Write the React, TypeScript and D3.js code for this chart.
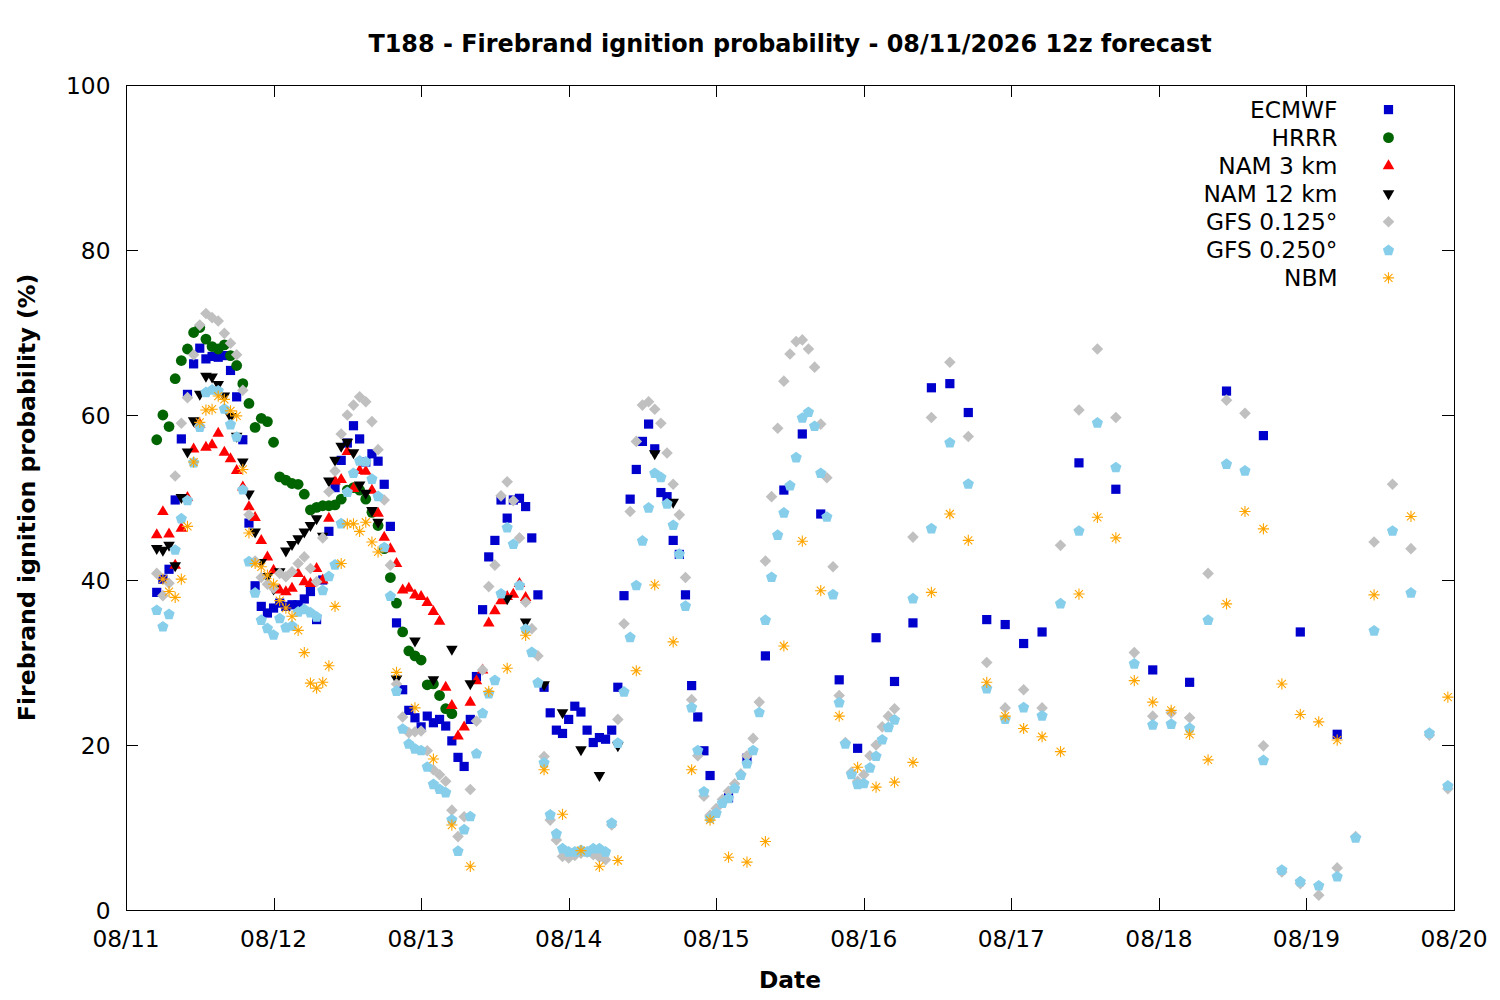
import React from "react";
import * as d3 from "d3";

// ---------- DATA (hours counted from 08/11 00:00) ----------
const START = Date.UTC(2026, 7, 11);
const END = Date.UTC(2026, 7, 20);
const HOUR = 3600 * 1000;

const dayTickLabels = ["08/11", "08/12", "08/13", "08/14", "08/15", "08/16", "08/17", "08/18", "08/19", "08/20"];
const yTickValues = [0, 20, 40, 60, 80, 100];

// ECMWF: hourly from hour 5, then 3-hourly from hour 98, then 6-hourly from hour 155
const ecmwfHourly = [
  38.5, 40.1, 41.3, 49.7, 57.1, 62.5, 66.2, 68.1, 66.8, 67.1,
  67.0, 67.2, 65.4, 62.2, 57.0, 46.9, 39.3, 36.8, 36.0, 36.6,
  37.2, 36.8, 37.0, 37.0, 37.7, 38.6, 35.2, 40.0, 45.9, 51.2,
  54.5, 56.6, 58.7, 57.1, 54.3, 55.3, 54.4, 51.6, 46.5, 34.8,
  26.7, 24.2, 23.3, 22.2, 23.5, 22.7, 23.1, 22.3, 20.5, 18.5,
  17.4, 23.1, 28.3, 36.4, 42.8, 44.8, 49.7, 47.5, 49.7, 49.9,
  48.9, 45.1, 38.2, 27.0, 23.9, 21.8, 21.4, 23.1, 24.7, 24.0,
  21.8, 20.3, 20.9, 20.7, 21.8, 27.0, 38.1, 49.8, 53.4, 56.8,
  58.9, 55.9, 50.6, 50.1, 44.8, 43.1, 38.2, 27.2, 23.4, 19.3,
  16.3,
];
const ecmwf3h = [13.6, 18.4, 30.8, 50.9, 57.7, 48.0, 27.9, 19.6, 33.0, 27.7, 34.8, 63.3, 63.8, 60.3, 35.2, 34.6, 32.3, 33.7];
const ecmwf6h = [54.2, 51.0, 29.1, 27.6, 62.9, 57.5, 33.7, 21.3];

// HRRR: hourly from hour 5
const hrrrHourly = [
  57.0, 60.0, 58.6, 64.4, 66.6, 68.0, 70.0, 70.6, 69.2, 68.3,
  68.0, 68.5, 67.2, 66.0, 63.8, 61.4, 58.5, 59.6, 59.2, 56.7,
  52.5, 52.1, 51.7, 51.6, 50.4, 48.5, 48.8, 49.0, 49.0, 49.1,
  49.8, 50.9, 51.2, 50.9, 49.8, 48.2, 46.6, 43.8, 40.3, 37.2,
  33.7, 31.4, 30.8, 30.3, 27.3, 27.4, 26.0, 24.4, 23.8,
];

// NAM 3 km: hourly from hour 5
const nam3Hourly = [
  45.5, 48.3, 45.6, 41.8, 46.3, 50.0, 55.9, 58.9, 56.1, 56.4,
  57.8, 55.5, 54.7, 53.3, 51.3, 48.9, 47.6, 44.8, 42.8, 41.2,
  38.8, 38.6, 39.0, 40.8, 39.8, 39.6, 41.4, 40.0, 47.5, 52.0,
  52.2, 55.6, 51.1, 53.3, 53.2, 50.9, 48.1, 45.2, 43.8, 42.0,
  38.8, 39.0, 38.2, 38.0, 37.3, 36.2, 35.0, 27.0, 24.8, 21.1,
  22.2, 25.2, 27.8, 29.1, 34.8, 36.3, 37.5, 38.0, 38.3, 39.6,
  37.9,
];

// NAM 12 km: hourly from hour 5, then 3-hourly from hour 44
const nam12Hourly = [
  43.8, 43.6, 44.2, 41.7, 50.0, 55.5, 59.3, 62.5, 64.7, 64.6,
  63.7, 62.3, 59.8, 57.4, 54.3, 50.4, 45.8, 42.1, 40.4, 38.9,
  41.0, 43.5, 44.3, 45.0, 45.8, 46.6, 47.4, 45.3, 52.0, 54.5,
  56.2, 56.7, 55.4, 51.5, 50.5, 48.4, 47.0,
];
const nam12ThreeHourly = [28.0, 32.6, 27.9, 31.6, 27.4, null, 37.7, 34.9, 27.3, 23.9, 19.4, 16.3, 19.9, null, 55.3, 49.4];

// GFS 0.125°: hourly from hour 5, then 3-hourly from hour 128
const gfs125Hourly = [
  40.8, 38.1, 39.6, 52.6, 59.0, 62.1, 67.3, 70.9, 72.3, 71.8,
  71.4, 69.9, 68.7, 67.3, 63.0, 47.9, 42.3, 40.3, 39.5, 39.0,
  40.8, 40.4, 41.0, 42.0, 42.8, 41.4, 39.8, 45.1, 50.7, 53.2,
  57.7, 60.0, 61.2, 62.2, 61.6, 59.2, 55.8, 49.7, 41.8, 27.4,
  23.4, 21.5, 21.6, 21.7, 19.3, 17.0, 16.4, 15.6, 12.1, 8.9,
  11.3, 14.6, 22.9, 29.1, 39.2, 41.8, 50.2, 51.9, 49.6, 45.1,
  37.3, 34.1, 30.8, 18.6, 10.9, 8.5, 6.5, 6.3, 6.6, 6.9,
  7.0, 6.7, 6.4, 6.1, 10.3, 23.1, 34.7, 48.3, 56.8, 61.2,
  61.6, 60.7, 59.0, 55.4, 51.6, 47.9, 40.3, 25.5, 18.7, 13.8,
  11.5, 12.3, 13.4, 14.4, 15.3, 16.5, 18.7, 20.8, 25.2, 42.3,
  50.1, 58.4, 64.1, 67.4, 68.9, 69.1, 68.0, 65.8, 58.9, 52.4,
  41.6, 26.0, 20.3, 16.7, 15.6, 16.4, 18.7, 20.0, 22.2, 23.5,
  24.4,
];
const gfs125ThreeHourly = [
  45.2, 59.7, 66.4, 57.4, 30.0, 24.5, 26.7, 24.5, 44.2, 60.6,
  68.0, 59.7, 31.2, 23.5, 23.9, 23.3, 40.8, 61.8, 60.2, 19.9,
  4.6, 3.2, 1.8, 5.1, 8.9, 44.6, 51.6, 43.8, 21.2, 14.7,
];

// GFS 0.250°: hourly from hour 5, then 3-hourly from hour 128
const gfs250Hourly = [
  36.4, 34.4, 35.9, 43.7, 47.5, 49.7, 54.3, 58.6, 62.8, 63.1,
  63.0, 60.8, 58.9, 57.4, 51.0, 42.3, 38.5, 35.2, 34.2, 33.4,
  35.4, 34.3, 34.5, 36.2, 36.5, 36.1, 35.6, 38.8, 40.5, 41.9,
  46.9, 50.7, 53.0, 54.5, 54.4, 52.3, 50.2, 44.0, 38.1, 26.6,
  22.0, 20.2, 19.6, 19.4, 17.4, 15.3, 14.7, 14.3, 11.0, 7.2,
  9.8, 11.4, 19.0, 23.9, 26.3, 27.9, 38.4, 46.4, 44.4, 39.4,
  34.1, 31.3, 27.6, 17.9, 11.6, 9.3, 7.5, 7.1, 7.1, 7.3,
  7.1, 7.5, 7.5, 7.1, 10.6, 20.3, 26.5, 33.1, 39.4, 44.8,
  48.8, 53.0, 52.5, 49.3, 46.7, 43.2, 36.9, 24.6, 19.4, 14.4,
  11.2, 11.8, 13.0, 13.6, 14.8, 16.4, 17.8, 19.4, 24.0, 35.2,
  40.4, 45.5, 48.2, 51.5, 54.9, 59.7, 60.4, 58.7, 53.0, 47.7,
  38.3, 25.2, 20.2, 16.5, 15.3, 15.4, 17.3, 18.7, 20.7, 22.2,
  23.1,
];
const gfs250ThreeHourly = [
  37.8, 46.3, 56.7, 51.7, 26.9, 23.2, 24.6, 23.6, 37.2, 46.0,
  59.1, 53.7, 29.9, 22.5, 22.6, 22.1, 35.2, 54.1, 53.3, 18.2,
  4.9, 3.5, 3.0, 4.1, 8.8, 33.9, 46.0, 38.5, 21.5, 15.1,
];

// NBM: hourly from hour 6, 3-hourly from hour 44, 6-hourly from hour 203
const nbmHourly = [
  40.1, 38.6, 37.9, 40.1, 46.5, 54.3, 59.1, 60.6, 60.7, 62.3,
  61.9, 60.5, 59.9, 53.4, 45.7, 42.0, 41.6, 40.6, 39.5, 37.5,
  36.6, 35.6, 33.9, 31.2, 27.5, 26.9, 27.6, 29.6, 36.8, 42.0,
  46.8, 46.8, 45.9, 47.0, 44.6, 43.4,
];
const nbmThreeHourly = [
  28.8, 24.5, 18.3, 10.3, 5.3, 26.5, 29.3, 33.3, 17.0, 11.6,
  7.2, 5.3, 6.0, 29.0, 39.4, 32.5, 17.0, 10.9, 6.4, 5.8,
  8.3, 32.0, 44.7, 38.7, 23.5, 17.3, 14.9, 15.5, 17.9, 38.5,
  48.0, 44.8, 27.6, 23.5, 22.0, 21.0, 19.2, 38.3, 47.6, 45.1,
  27.8, 25.2, 24.2, 21.3, 18.2, 37.1, 48.3, 46.2, 27.4, 23.7,
  22.8, 20.6,
];
const nbmSixHourly = [38.2, 47.7, 25.8];

type Part = [number, number, (number | null)[]];
type Shape = "square" | "circle" | "triUp" | "triDown" | "diamond" | "pentagon" | "star";
interface Series { name: string; color: string; shape: Shape; parts: Part[] }

const seriesList: Series[] = [
  { name: "ECMWF", color: "#0000cd", shape: "square", parts: [[5, 1, ecmwfHourly], [98, 3, ecmwf3h], [155, 6, ecmwf6h]] },
  { name: "HRRR", color: "#006400", shape: "circle", parts: [[5, 1, hrrrHourly]] },
  { name: "NAM 3 km", color: "#ff0000", shape: "triUp", parts: [[5, 1, nam3Hourly]] },
  { name: "NAM 12 km", color: "#000000", shape: "triDown", parts: [[5, 1, nam12Hourly], [44, 3, nam12ThreeHourly]] },
  { name: "GFS 0.125°", color: "#c0c0c0", shape: "diamond", parts: [[5, 1, gfs125Hourly], [128, 3, gfs125ThreeHourly]] },
  { name: "GFS 0.250°", color: "#87ceeb", shape: "pentagon", parts: [[5, 1, gfs250Hourly], [128, 3, gfs250ThreeHourly]] },
  { name: "NBM", color: "#ffa500", shape: "star", parts: [[6, 1, nbmHourly], [44, 3, nbmThreeHourly], [203, 6, nbmSixHourly]] },
];

function expand(parts: Part[]) {
  const out: { t: Date; v: number }[] = [];
  parts.forEach(([start, step, vals]) => {
    vals.forEach((v, i) => {
      if (v !== null && v !== undefined) out.push({ t: new Date(START + (start + i * step) * HOUR), v });
    });
  });
  return out;
}

// ---------- LAYOUT ----------
const W = 1500, H = 1000;
const L = 126, R = 1454, T = 85, B = 910;
const FONT = "'DejaVu Sans', 'Liberation Sans', sans-serif";
const FS = 23.3;

function pentagonPath(r: number) {
  const pts = d3.range(5).map((i) => {
    const a = -Math.PI / 2 + (i * 2 * Math.PI) / 5;
    return [r * Math.cos(a), r * Math.sin(a) + 0.6];
  });
  return "M" + pts.map((p) => p[0].toFixed(2) + "," + p[1].toFixed(2)).join("L") + "Z";
}

function Marker({ shape, color, x, y }: { shape: Shape; color: string; x: number; y: number }) {
  const tr = `translate(${x},${y})`;
  switch (shape) {
    case "square":
      return <rect x={x - 4.6} y={y - 4.6} width={9.2} height={9.2} fill={color} />;
    case "circle":
      return <circle cx={x} cy={y} r={5.4} fill={color} />;
    case "triUp":
      return <path transform={tr} d="M0,-6.4L5.8,3.6L-5.8,3.6Z" fill={color} />;
    case "triDown":
      return <path transform={tr} d="M0,6.4L5.8,-3.6L-5.8,-3.6Z" fill={color} />;
    case "diamond":
      return <path transform={tr} d="M0,-5.8L5.8,0L0,5.8L-5.8,0Z" fill={color} />;
    case "pentagon":
      return <path transform={tr} d={pentagonPath(5.9)} fill={color} />;
    case "star":
      return (
        <path
          transform={tr}
          d="M-5.6,0H5.6M0,-5.6V5.6M-4,-4L4,4M-4,4L4,-4"
          stroke={color}
          strokeWidth={1.1}
          fill="none"
        />
      );
  }
  return null;
}

export default function App() {
  const x = d3.scaleUtc().domain([START, END]).range([L, R]);
  const y = d3.scaleLinear().domain([0, 100]).range([B, T]);
  const dayTicks = x.ticks(d3.utcDay.every(1) as any);

  return (
    <svg
      width={W}
      height={H}
      viewBox={`0 0 ${W} ${H}`}
      style={{ position: "absolute", left: 0, top: 0, background: "#fff" }}
      fontFamily={FONT}
    >
      <rect x={0} y={0} width={W} height={H} fill="#fff" />
      {/* title */}
      <text x={(L + R) / 2} y={51.5} textAnchor="middle" fontSize={23.9} fontWeight="bold" fill="#000">
        T188 - Firebrand ignition probability - 08/11/2026 12z forecast
      </text>

      {/* y ticks */}
      {yTickValues.map((v) => (
        <g key={"y" + v}>
          <line x1={L} x2={L + 12} y1={Math.round(y(v)) + 0.5} y2={Math.round(y(v)) + 0.5} stroke="#000" strokeWidth={1} />
          <line x1={R - 12} x2={R} y1={Math.round(y(v)) + 0.5} y2={Math.round(y(v)) + 0.5} stroke="#000" strokeWidth={1} />
          <text x={110.5} y={y(v) + 8.5} textAnchor="end" fontSize={FS} fill="#000">
            {v}
          </text>
        </g>
      ))}

      {/* x ticks */}
      {dayTicks.map((d, i) => (
        <g key={"x" + i}>
          <line x1={Math.round(x(d)) + 0.5} x2={Math.round(x(d)) + 0.5} y1={B} y2={B - 12} stroke="#000" strokeWidth={1} />
          <line x1={Math.round(x(d)) + 0.5} x2={Math.round(x(d)) + 0.5} y1={T} y2={T + 12} stroke="#000" strokeWidth={1} />
          <text x={x(d)} y={947} textAnchor="middle" fontSize={FS} fill="#000">
            {dayTickLabels[i]}
          </text>
        </g>
      ))}

      {/* frame */}
      <rect x={L + 0.5} y={T + 0.5} width={R - L} height={B - T} fill="none" stroke="#000" strokeWidth={1} />

      {/* axis labels */}
      <text x={(L + R) / 2} y={988} textAnchor="middle" fontSize={FS} fontWeight="bold" fill="#000">
        Date
      </text>
      <text
        transform={`translate(35,${(T + B) / 2}) rotate(-90)`}
        textAnchor="middle"
        fontSize={23.6}
        fontWeight="bold"
        fill="#000"
      >
        Firebrand ignition probability (%)
      </text>

      {/* data */}
      {seriesList.map((s) => (
        <g key={s.name}>
          {expand(s.parts).map((p, i) => (
            <Marker key={i} shape={s.shape} color={s.color} x={x(p.t)} y={y(p.v)} />
          ))}
        </g>
      ))}

      {/* legend */}
      {seriesList.map((s, i) => {
        const cy = 109.6 + i * 28.05;
        return (
          <g key={"leg" + s.name}>
            <text x={1337.5} y={cy + 8.5} textAnchor="end" fontSize={FS} fill="#000">
              {s.name}
            </text>
            <Marker shape={s.shape} color={s.color} x={1388.5} y={cy} />
          </g>
        );
      })}
    </svg>
  );
}
